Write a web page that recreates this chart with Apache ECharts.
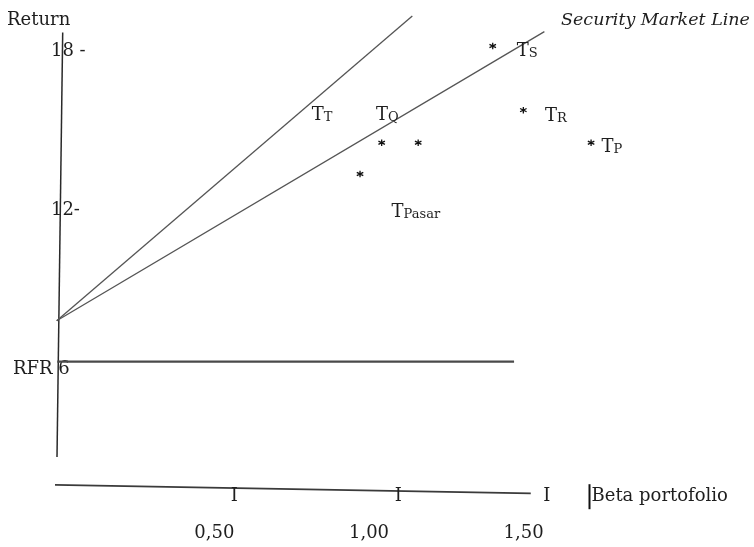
<!DOCTYPE html>
<html>
<head>
<meta charset="utf-8">
<script src="https://cdn.jsdelivr.net/npm/echarts@6/dist/echarts.min.js"></script>
<style>
  html, body { margin: 0; padding: 0; background: #fff; }
  #chart { width: 754px; height: 547px; }
</style>
</head>
<body>
<div id="chart"></div>
<script>
// ---- data ----
const xTickValues = [0.5, 1.0, 1.5];
const xTickLabels = ['0,50', '1,00', '1,50'];
const yTickValues = [6, 12, 18];
const yTickLabels = ['RFR 6', '12-', '18 -'];

const yAxisName = 'Return';
const xAxisName = 'Beta portofolio';
const smlName = 'Security Market Line';

// hand-drawn axis lines (beta, return)
const returnAxisLine = [[0.0097, 18.70], [-0.0087, 2.69]];
const betaAxisLine = [[-0.0152, 1.64], [1.523, 1.32]];
const betaTickMarks = [[0.5645, 1.22], [1.0947, 1.22], [1.5745, 1.22]];

// lines
const steepLine = [[-0.0097, 7.83], [1.140, 19.32]];
const smlLine = [[-0.0097, 7.83], [1.567, 18.73]];
const rfrLine = [[-0.0078, 6.29], [1.469, 6.29]];

// securities (asterisks) and their labels
const securityPoints = [[1.400, 18.19], [1.499, 15.77], [1.041, 14.54], [1.159, 14.54], [1.718, 14.54], [0.971, 13.36]];
const securityLabelNames = ['S', 'T', 'Q', 'R', 'P', 'Pasar'];
const securityLabelPos = [[1.478, 18.0], [0.815, 15.59], [1.023, 15.59], [1.569, 15.55], [1.752, 14.38], [1.073, 11.93]];

// ---- chart ----
const FONT = 'DejaVu Serif';
const TXT = '#1e1e1e';
const chart = echarts.init(document.getElementById('chart'), null, { renderer: 'canvas' });

function lineSeries(data, color, width) {
  return {
    type: 'line', data: data, symbol: 'none', silent: true,
    lineStyle: { color: color, width: width, opacity: 1 }, clip: false, z: 2
  };
}

const option = {
  animation: false,
  backgroundColor: '#fff',
  grid: { left: 0.93, right: 13.84, top: 11.19, bottom: 31.84, outerBoundsMode: 'none', containLabel: false },
  xAxis: {
    type: 'value', min: -0.19, max: 2.2,
    axisLine: { show: false }, axisTick: { show: false }, splitLine: { show: false },
    axisLabel: {
      customValues: xTickValues,
      margin: 9,
      fontFamily: FONT, fontSize: 18, color: TXT,
      formatter: function (v) {
        const i = xTickValues.findIndex(function (t) { return Math.abs(t - v) < 1e-9; });
        return i >= 0 ? xTickLabels[i] : '';
      }
    }
  },
  yAxis: {
    type: 'value', min: 0.5, max: 19.5,
    axisLine: { show: false }, axisTick: { show: false }, splitLine: { show: false },
    axisLabel: {
      customValues: yTickValues,
      inside: true,
      margin: 12,
      fontFamily: FONT, fontSize: 18, color: TXT,
      formatter: function (v) {
        const i = yTickValues.findIndex(function (t) { return Math.abs(t - v) < 1e-9; });
        if (i < 0) return '';
        return (i === 0 ? '{a|' : '{b|') + yTickLabels[i] + '}';
      },
      rich: {
        a: { fontFamily: FONT, fontSize: 18, color: TXT },
        b: { fontFamily: FONT, fontSize: 18, color: TXT, padding: [0, 0, 0, 38] }
      }
    }
  },
  series: [
    lineSeries(returnAxisLine, '#2a2a2a', 1.5),
    lineSeries(betaAxisLine, '#3a3a3a', 1.8),
    lineSeries(steepLine, '#555', 1.3),
    lineSeries(smlLine, '#555', 1.3),
    lineSeries(rfrLine, '#4a4a4a', 2.2),
    {
      type: 'scatter', data: betaTickMarks, symbolSize: 0, silent: true,
      itemStyle: { opacity: 1 },
      label: { show: true, position: 'inside', formatter: 'I', fontFamily: FONT, fontSize: 18, color: TXT, opacity: 1 }
    },
    {
      type: 'scatter', data: securityPoints, silent: true,
      symbol: 'path://M0,-5L0,5M-4.33,-2.5L4.33,2.5M-4.33,2.5L4.33,-2.5',
      symbolSize: 6.5,
      itemStyle: { color: 'none', borderColor: '#111', borderWidth: 1.3, opacity: 1 }
    },
    {
      type: 'scatter', silent: true, symbolSize: 0,
      itemStyle: { opacity: 1 },
      data: securityLabelPos.map(function (p, i) { return { value: p, name: securityLabelNames[i] }; }),
      label: {
        show: true, position: 'right', distance: 0, opacity: 1,
        formatter: function (p) { return '{t|T}{s|' + p.name + '}'; },
        rich: {
          t: { fontFamily: FONT, fontSize: 18, color: TXT, verticalAlign: 'bottom' },
          s: { fontFamily: FONT, fontSize: 13, color: TXT, verticalAlign: 'bottom' }
        }
      }
    }
  ],
  graphic: [
    { type: 'text', x: 7, y: 20, silent: true,
      style: { text: yAxisName, font: '18px "DejaVu Serif"', fill: TXT, align: 'left', verticalAlign: 'middle' } },
    { type: 'text', x: 561, y: 20, silent: true,
      style: { text: smlName, font: 'italic 17.5px "DejaVu Serif"', fill: TXT, align: 'left', verticalAlign: 'middle' } },
    { type: 'text', x: 588.5, y: 496.7, silent: true,
      style: {
        text: '{c| }{n|' + xAxisName + '}', align: 'left', verticalAlign: 'middle',
        rich: {
          c: { width: 2, height: 25, backgroundColor: '#111' },
          n: { fontFamily: FONT, fontSize: 18, fill: TXT, color: TXT, padding: [0, 0, 0, 1] }
        }
      } }
  ]
};
chart.setOption(option);
</script>
</body>
</html>
